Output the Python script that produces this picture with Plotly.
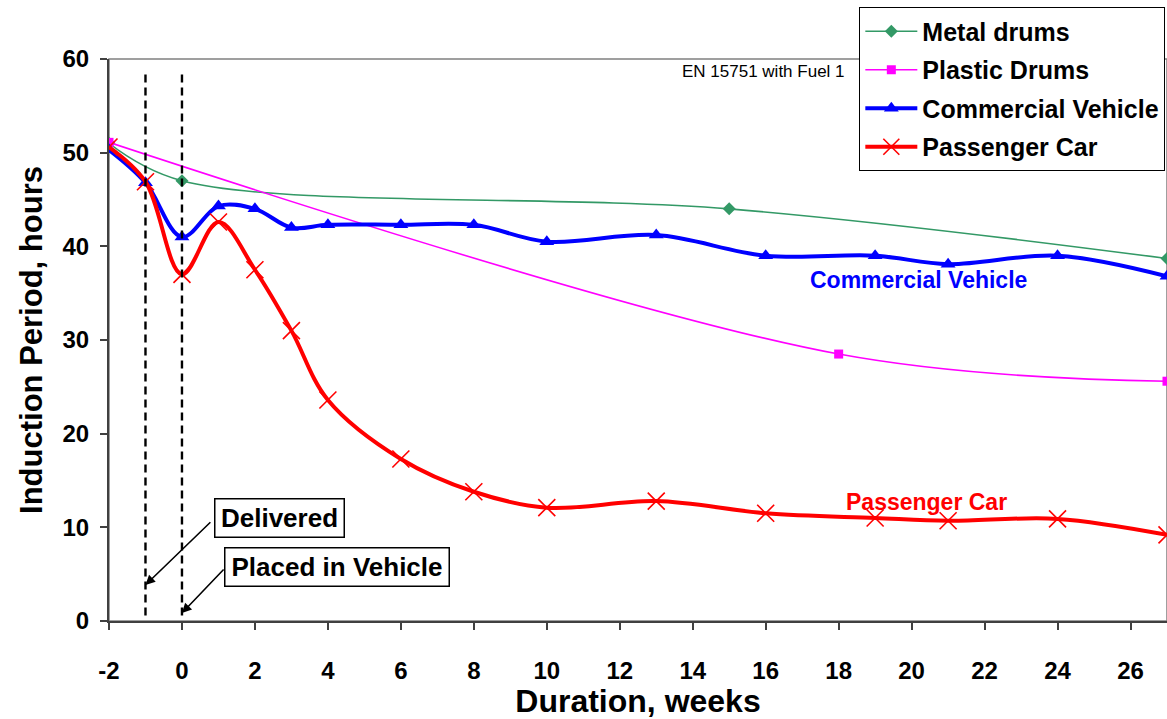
import plotly.graph_objects as go

# ---- data ----
metal_weeks = [-2, 0, 15, 27]
metal_vals = [51.0, 47.0, 44.0, 38.7]

plastic_weeks = [-2, 18, 27]
plastic_vals = [51.1, 28.5, 25.6]

vehicle_weeks = [-2, -1, 0, 1, 2, 3, 4, 6, 8, 10, 13, 16, 19, 21, 24, 27]
commercial_vals = [50.3, 46.8, 41.0, 44.3, 44.0, 42.0, 42.3, 42.3, 42.3, 40.5, 41.2, 39.0, 39.0, 38.1, 39.0, 36.8]
passenger_vals = [50.6, 46.9, 37.0, 42.6, 37.5, 31.0, 23.6, 17.3, 13.8, 12.1, 12.8, 11.5, 11.0, 10.7, 10.9, 9.2]

x_ticks = list(range(-2, 27, 2))
y_ticks = [0, 10, 20, 30, 40, 50, 60]
event_weeks = [-1, 0]

FONT = "Arial, Liberation Sans, Helvetica, sans-serif"

fig = go.Figure()

fig.add_trace(go.Scatter(
    x=metal_weeks, y=metal_vals, name="<b>Metal drums</b>", mode="lines+markers",
    line=dict(color="#339966", width=1.6, shape="spline", smoothing=1),
    marker=dict(symbol="diamond", size=10, color="#339966"),
    legendgroup="g1"))
fig.add_trace(go.Scatter(
    x=plastic_weeks, y=plastic_vals, name="<b>Plastic Drums</b>", mode="lines+markers",
    line=dict(color="#FF00FF", width=1.6, shape="spline", smoothing=1),
    marker=dict(symbol="square", size=9, color="#FF00FF"),
    legendgroup="g2"))
fig.add_trace(go.Scatter(
    x=vehicle_weeks, y=commercial_vals, name="<b>Commercial Vehicle</b>", mode="lines+markers",
    line=dict(color="#0000FF", width=4, shape="spline", smoothing=1),
    marker=dict(symbol="triangle-up", size=13, color="#0000FF"),
    legendgroup="g3"))
fig.add_trace(go.Scatter(
    x=vehicle_weeks, y=passenger_vals, name="<b>Passenger Car</b>", mode="lines+markers",
    line=dict(color="#FF0000", width=4, shape="spline", smoothing=1),
    marker=dict(symbol="x-thin", size=17, color="#FF0000",
                line=dict(color="#FF0000", width=1.6)),
    legendgroup="g4"))

# dashed vertical event lines
for w in event_weeks:
    fig.add_shape(type="line", xref="x", yref="y", x0=w, x1=w, y0=0.6, y1=58.6,
                  line=dict(color="black", width=2.4, dash="8px,5px"))

# gray plot-area border (top/right)
fig.add_shape(type="rect", xref="paper", yref="paper", x0=0, x1=1, y0=0, y1=1,
              line=dict(color="#808080", width=1.5), layer="below")

# arrows (text-free annotations)
fig.add_annotation(x=-1.0, y=3.85, ax=0.82, ay=10.7, axref="x", ayref="y",
                   xref="x", yref="y", text="", showarrow=True,
                   arrowhead=2, arrowsize=1.2, arrowwidth=1.6, arrowcolor="black")
fig.add_annotation(x=0.0, y=0.85, ax=1.18, ay=5.66, axref="x", ayref="y",
                   xref="x", yref="y", text="", showarrow=True,
                   arrowhead=2, arrowsize=1.2, arrowwidth=1.6, arrowcolor="black")

# boxed labels
fig.add_annotation(x=2.66, y=11.0, xref="x", yref="y", text="<b>Delivered</b>",
                   showarrow=False, font=dict(family=FONT, size=26, color="black"),
                   width=122, height=31,
                   bgcolor="white", bordercolor="black", borderwidth=1.5, borderpad=3)
fig.add_annotation(x=4.25, y=5.76, xref="x", yref="y", text="<b>Placed in Vehicle</b>",
                   showarrow=False, font=dict(family=FONT, size=26, color="black"),
                   width=217, height=31,
                   bgcolor="white", bordercolor="black", borderwidth=1.5, borderpad=3)

# series labels
fig.add_annotation(x=20.18, y=36.4, xref="x", yref="y", text="<b>Commercial Vehicle</b>",
                   showarrow=False, font=dict(family=FONT, size=23, color="#0000FF"))
fig.add_annotation(x=20.42, y=12.7, xref="x", yref="y", text="<b>Passenger Car</b>",
                   showarrow=False, font=dict(family=FONT, size=23, color="#FF0000"))
fig.add_annotation(x=18.23, y=58.7, xref="x", yref="y", text="EN 15751 with Fuel 1",
                   xanchor="right", showarrow=False,
                   font=dict(family=FONT, size=17, color="black"))

fig.update_layout(
    width=1167, height=719,
    margin=dict(l=109, r=0, t=59, b=98, autoexpand=False),
    paper_bgcolor="white", plot_bgcolor="white",
    font=dict(family=FONT, color="black"),
    showlegend=True,
    legend=dict(x=0.709, y=1.092, xanchor="left", yanchor="top",
                bgcolor="white", bordercolor="black", borderwidth=1.2,
                font=dict(family=FONT, size=25, color="black"),
                tracegroupgap=3, itemwidth=52, traceorder="grouped"),
    xaxis=dict(range=[-2, 27], tickmode="array", tickvals=x_ticks,
               ticktext=[f"<b>{t}</b>" for t in x_ticks],
               tickfont=dict(family=FONT, size=24, color="black"),
               ticks="outside", ticklen=7, tickcolor="#404040", tickwidth=1.5,
               showline=True, linecolor="#404040", linewidth=2,
               showgrid=False, zeroline=False, ticklabelstandoff=20,
               automargin=False,
               title=dict(text="<b>Duration, weeks</b>", standoff=12,
                          font=dict(family=FONT, size=32, color="black"))),
    yaxis=dict(range=[0, 60], tickmode="array", tickvals=y_ticks,
               ticktext=[f"<b>{t}</b>" for t in y_ticks],
               tickfont=dict(family=FONT, size=24, color="black"),
               ticks="outside", ticklen=7, tickcolor="#404040", tickwidth=1.5,
               showline=True, linecolor="#404040", linewidth=2,
               showgrid=False, zeroline=False, ticklabelstandoff=6,
               automargin=False,
               title=dict(text="<b>Induction Period, hours</b>", standoff=11,
                          font=dict(family=FONT, size=31, color="black"))),
)

fig.write_html("out.html", config={"displayModeBar": False},
               post_script="document.body.style.margin='0';document.body.style.overflow='hidden';")
